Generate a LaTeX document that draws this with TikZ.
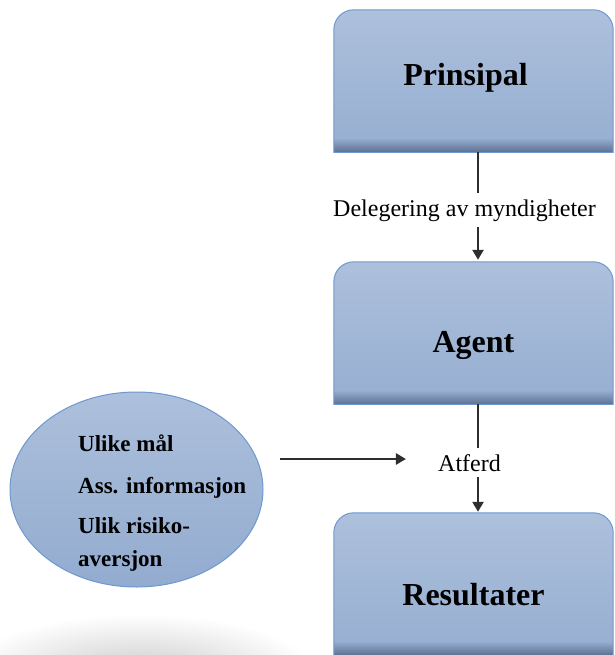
\documentclass[tikz,border=0pt]{standalone}
\usepackage{fontspec}
\setmainfont{Liberation Serif}
\usetikzlibrary{arrows.meta,shapes.geometric,backgrounds}
\definecolor{boxtop}{HTML}{ADC0DC}
\definecolor{boxbot}{HTML}{92ABCF}
\definecolor{boxdark}{HTML}{5E7090}
\definecolor{boxline}{HTML}{6E98D0}
\definecolor{conncol}{HTML}{2E2E2E}
\tikzset{
  boxnode/.style={minimum width=279pt, minimum height=142pt, inner sep=0pt,
    text height=0pt, text depth=0pt, font=\fontsize{32}{32}\selectfont\bfseries},
  lbl/.style={font=\fontsize{24}{24}\selectfont, inner xsep=2pt, inner ysep=6pt, anchor=base},
  elltext/.style={font=\fontsize{23}{27}\selectfont\bfseries, anchor=base west, inner sep=0pt},
  conn/.style={draw=conncol, line width=2.4pt},
  arr/.style={conn, -{Triangle[length=10pt,width=11pt]}},
}
\newcommand\boxshape[1]{%
  \begin{scope}
    \clip ([xshift=-2pt,yshift=2pt]#1.north west) rectangle ([xshift=2pt]#1.south east);
    \shade[top color=boxtop,bottom color=boxbot,rounded corners=20pt]
      (#1.north west) rectangle ([yshift=-24pt]#1.south east);
    \shade[top color=boxbot,bottom color=boxdark]
      ([yshift=13pt]#1.south west) rectangle (#1.south east);
    \draw[boxline,line width=1pt,rounded corners=20pt]
      (#1.north west) rectangle ([yshift=-24pt]#1.south east);
  \end{scope}
  \draw[boxline,line width=1.2pt] (#1.south west) -- (#1.south east);
}
\begin{document}
\begin{tikzpicture}[x=1pt,y=-1pt]
\useasboundingbox (0,0) rectangle (614,655);
\clip (0,0) rectangle (614,655);
% soft shadow below the ellipse
\begin{scope}
  \clip (0,596) rectangle (320,655);
  \shade[inner color=black!21, outer color=white] (140,676) ellipse (178 and 62);
\end{scope}
% boxes
\node[boxnode] (prin) at (473.5,81) {\hspace*{-16pt}\raisebox{-5pt}{Prinsipal}};
\node[boxnode] (agent) at (473.5,333) {\raisebox{-19pt}{Agent}};
\node[boxnode] (res) at (473.5,584) {\raisebox{-21pt}{Resultater}};
\begin{pgfonlayer}{background}
  \boxshape{prin}
  \boxshape{agent}
  \boxshape{res}
\end{pgfonlayer}
% labels
\node[lbl] (deleg) at (464.5,216) {Delegering av myndigheter};
\node[lbl] (atf) at (469.5,471) {Atferd};
% vertical connectors
\coordinate (ax) at (478,0);
\draw[conn] (prin.south -| ax) -- (deleg.north -| ax);
\draw[arr, shorten >=2pt] (deleg.south -| ax) -- (agent.north -| ax);
\draw[conn] (agent.south -| ax) -- (atf.north -| ax);
\draw[arr, shorten >=1pt] (atf.south -| ax) -- (res.north -| ax);
% ellipse
\node[ellipse, draw=boxline, line width=1pt, minimum width=253pt, minimum height=195pt,
      top color=boxtop, bottom color=boxbot, inner sep=0pt] (ell) at (136.5,489.5) {};
\node[elltext] (t1) at (78,451) {Ulike mål};
\node[elltext] (t2) at (78,493) {Ass. informasjon};
\node[elltext] (t3) at (78,533) {Ulik risiko-};
\node[elltext] (t4) at (78,566) {aversjon};
% horizontal arrow
\coordinate (hs) at (280,459);
\draw[arr, shorten >=30pt] (hs) -- (hs -| atf.west);
\end{tikzpicture}
\end{document}
